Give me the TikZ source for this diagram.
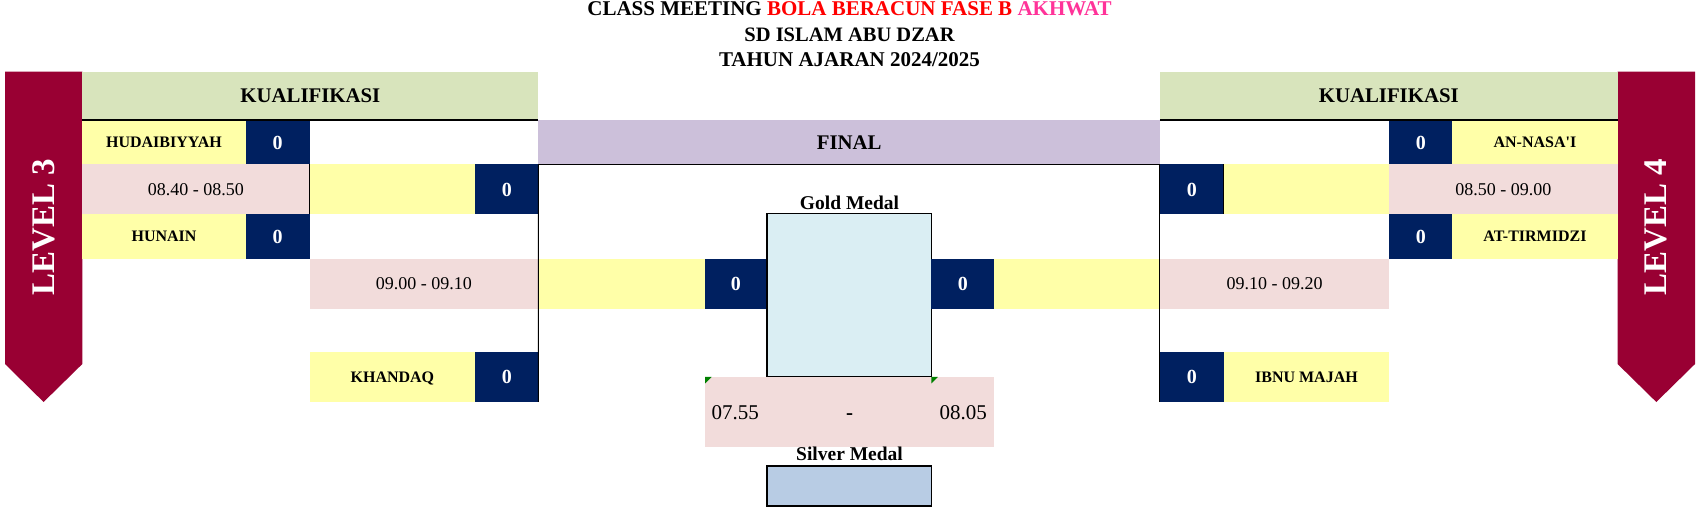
\documentclass[tikz,border=0pt]{standalone}
\usepackage{fontspec}
\setmainfont{Liberation Serif}
\newfontfamily\rawserif[Ligatures=TeXOff]{Liberation Serif}
\definecolor{bannerc}{HTML}{990033}
\definecolor{kualc}{HTML}{D8E4BC}
\definecolor{finalc}{HTML}{CCC0DA}
\definecolor{yelc}{HTML}{FFFFA8}
\definecolor{navyc}{HTML}{002060}
\definecolor{pinkc}{HTML}{F2DCDB}
\definecolor{goldc}{HTML}{DAEEF3}
\definecolor{silverc}{HTML}{B8CCE4}
\definecolor{titlered}{HTML}{FF0000}
\definecolor{titlepink}{HTML}{FF3399}
\definecolor{tric}{HTML}{008000}
\newcommand\cellnode[7]{%
  \pgfmathsetmacro\cw{(#4)-(#2)}\pgfmathsetmacro\ch{(#5)-(#3)}%
  \pgfmathsetmacro\cx{((#2)+(#4))/2}\pgfmathsetmacro\cy{((#3)+(#5))/2}%
  \node[cellbase,#6,minimum width=\cw pt,minimum height=\ch pt] (#1) at (\cx,\cy) {#7};}
\begin{document}
\begin{tikzpicture}[x=1pt,y=-1pt,
  cellbase/.style={inner sep=0pt,outer sep=0pt,draw=none,align=center,text depth=0pt},
  yname/.style={fill=yelc,text height=10.7pt,font=\fontsize{16}{18}\selectfont\bfseries},
  score/.style={fill=navyc,text=white,text height=13.5pt,font=\fontsize{20}{22}\selectfont\bfseries},
  tslot/.style={fill=pinkc,text height=12.2pt,font=\fontsize{18}{20}\selectfont},
  headc/.style={text height=13.8pt,font=\fontsize{20.8}{24}\selectfont\bfseries},
  titlec/.style={anchor=base,inner sep=0pt,font=\fontsize{21}{24}\selectfont\bfseries},
  medal/.style={anchor=base,inner sep=0pt,font=\fontsize{19.5}{22}\selectfont\bfseries},
  timec/.style={anchor=base,inner sep=0pt,font=\fontsize{21}{24}\selectfont},
  levelc/.style={rotate=90,text=white,inner sep=0pt,font=\fontsize{33}{36}\selectfont\bfseries},
  rule/.style={line width=1.6pt},
  thin/.style={line width=0.9pt},
  mbox/.style={draw=black,line width=1.6pt}]
\useasboundingbox[fill=white] (0,0) rectangle (1698,512);
% title
\node[titlec] (t1) at (849.5,15) {CLASS MEETING \textcolor{titlered}{BOLA BERACUN FASE B} \textcolor{titlepink}{AKHWAT}};
\node[titlec,font=\fontsize{20.5}{24}\selectfont\bfseries] (t2) at (849.5,41) {SD ISLAM ABU DZAR};
\node[titlec] (t3) at (849.5,66) {TAHUN AJARAN 2024/2025};
% banners
\fill[bannerc] (5,71.5) -- (82.3,71.5) -- (82.3,364) -- (43.6,402) -- (5,364) -- cycle;
\node[levelc] (lv3) at (43.6,227) {LEVEL 3};
\fill[bannerc] (1617.6,71.5) -- (1695,71.5) -- (1695,364) -- (1656.3,402) -- (1617.6,364) -- cycle;
\node[levelc] (lv4) at (1656.3,227) {LEVEL 4};
% headers
\cellnode{kualL}{82.3}{71.5}{538.4}{120.2}{headc,fill=kualc}{KUALIFIKASI}
\cellnode{kualR}{1159.9}{71.5}{1617.6}{120.2}{headc,fill=kualc}{KUALIFIKASI}
\cellnode{final}{538.4}{120.2}{1159.9}{164.4}{headc,fill=finalc}{FINAL}
% left side
\cellnode{hud}{82.3}{120.2}{245.7}{164.4}{yname}{HUDAIBIYYAH}
\cellnode{hudS}{245.7}{120.2}{309.5}{164.4}{score}{0}
\cellnode{tA}{82.3}{164.4}{309.5}{214.2}{tslot}{08.40 - 08.50}
\cellnode{wA}{309.5}{164.4}{475.3}{214.2}{yname}{}
\cellnode{wAS}{475.3}{164.4}{538.4}{214.2}{score}{0}
\cellnode{hun}{82.3}{214.2}{245.7}{258.8}{yname}{HUNAIN}
\cellnode{hunS}{245.7}{214.2}{309.5}{258.8}{score}{0}
\cellnode{tB}{309.5}{258.8}{538.4}{308.6}{tslot}{09.00 - 09.10}
\cellnode{fL}{538.4}{258.8}{705.2}{308.6}{yname}{}
\cellnode{fLS}{705.2}{258.8}{766.7}{308.6}{score}{0}
\cellnode{kha}{309.5}{351.9}{475.3}{401.8}{yname}{KHANDAQ}
\cellnode{khaS}{475.3}{351.9}{538.4}{401.8}{score}{0}
% centre
\cellnode{gold}{766.7}{213.3}{931.4}{376.9}{mbox,fill=goldc}{}
\node[medal] (goldL) at (849.5,209.5) {Gold Medal};
\cellnode{fRS}{931.4}{258.8}{994.1}{308.6}{score}{0}
\cellnode{fR}{994.1}{258.8}{1159.9}{308.6}{yname}{}
\cellnode{tc}{705.2}{376.9}{994.1}{446.5}{fill=pinkc}{}
\node[timec,anchor=base west] (tcA) at (711.5,419.3) {07.55};
\node[timec,font=\fontsize{21}{24}\selectfont\bfseries] (tcB) at (849.5,419.3) {-};
\node[timec,anchor=base east] (tcC) at (987,419.3) {08.05};
\fill[tric] (tc.north west) -- ++(6.5,0) -- ++(-6.5,6.5) -- cycle;
\fill[tric] (931.4,376.9) -- ++(6.5,0) -- ++(-6.5,6.5) -- cycle;
\node[medal] (silverL) at (849.5,460.5) {Silver Medal};
\cellnode{silver}{766.7}{466}{931.4}{506}{mbox,fill=silverc}{}
% right side
\cellnode{nasS}{1389.3}{120.2}{1452.3}{164.4}{score}{0}
\cellnode{nas}{1452.3}{120.2}{1617.6}{164.4}{yname}{{\rawserif\bfseries AN-NASA'I}}
\cellnode{wBS}{1159.9}{164.4}{1223.6}{214.2}{score}{0}
\cellnode{wB}{1223.6}{164.4}{1389.3}{214.2}{yname}{}
\cellnode{tC}{1389.3}{164.4}{1617.6}{214.2}{tslot}{08.50 - 09.00}
\cellnode{tirS}{1389.3}{214.2}{1452.3}{258.8}{score}{0}
\cellnode{tir}{1452.3}{214.2}{1617.6}{258.8}{yname}{AT-TIRMIDZI}
\cellnode{tD}{1159.9}{258.8}{1389.3}{308.6}{tslot}{09.10 - 09.20}
\cellnode{ibnS}{1159.9}{351.9}{1223.6}{401.8}{score}{0}
\cellnode{ibn}{1223.6}{351.9}{1389.3}{401.8}{yname}{IBNU MAJAH}
% bracket lines
\draw[rule] (kualL.south west) -- (kualL.south east);
\draw[rule] (kualR.south west) -- (kualR.south east);
\draw[rule] (final.south west) -- (final.south east);
\draw[thin] (final.south west) -- (khaS.south east);
\draw[thin] (final.south east) -- (ibnS.south west);
\draw[thin] (tA.north east) -- (tA.south east);
\draw[thin] (wB.north west) -- (wB.south west);
\end{tikzpicture}
\end{document}
